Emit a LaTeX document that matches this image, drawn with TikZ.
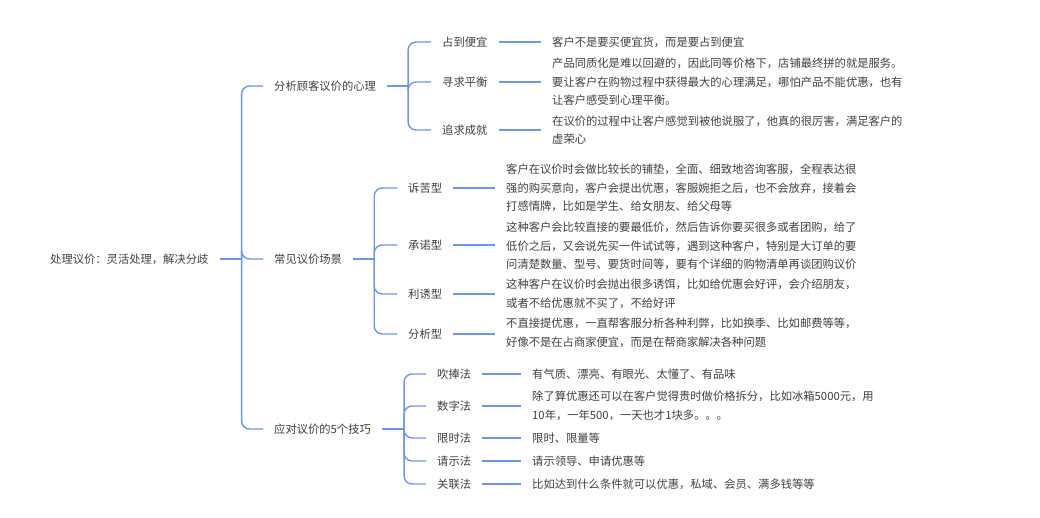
\documentclass[tikz,border=0pt]{standalone}
\usepackage{fontspec}
\setmainfont{Noto Sans CJK SC}
\definecolor{linkblue}{HTML}{6B95F5}
\definecolor{txtgray}{HTML}{404040}

\begin{document}
\begin{tikzpicture}[x=1pt, y=-1pt,
        txt/.style={anchor=west, inner xsep=11pt, inner ysep=0pt, align=left, text=txtgray,
            font=\fontsize{11.3}{18.5}\selectfont},
        link/.style={draw=linkblue, line width=1.4pt, rounded corners=8pt}]
        \useasboundingbox (0,0) rectangle (1040,518);

        \node[txt] (root) at (39,259) {处理议价：灵活处理，解决分歧};

        \node[txt] (psy) at (263,86) {分析顾客议价的心理};
        \node[txt] (scene) at (263,259) {常见议价场景};
        \node[txt] (skill) at (263,429) {应对议价的5个技巧};

        \node[txt] (cheap) at (431,42) {占到便宜};
        \node[txt] (balance) at (431,82) {寻求平衡};
        \node[txt] (success) at (431,130) {追求成就};

        \node[txt] (plead) at (397,188) {诉苦型};
        \node[txt] (promise) at (397,245) {承诺型};
        \node[txt] (lure) at (397,294) {利诱型};
        \node[txt] (analyse) at (397,334) {分析型};

        \node[txt] (praise) at (426,374) {吹捧法};
        \node[txt] (number) at (426,406) {数字法};
        \node[txt] (limit) at (426,438) {限时法};
        \node[txt] (ask) at (426,461) {请示法};
        \node[txt] (relate) at (426,484) {关联法};

        \node[txt] (cheapT) at (541,42) {客户不是要买便宜货，而是要占到便宜};
        \node[txt] (balanceT) at (541,82) {产品同质化是难以回避的，因此同等价格下，店铺最终拼的就是服务。\\要让客户在购物过程中获得最大的心理满足，哪怕产品不能优惠，也有\\让客户感受到心理平衡。};
        \node[txt] (successT) at (541,130) {在议价的过程中让客户感觉到被他说服了，他真的很厉害，满足客户的\\虚荣心};

        \node[txt] (pleadT) at (495,188) {客户在议价时会做比较长的铺垫，全面、细致地咨询客服，全程表达很\\强的购买意向，客户会提出优惠，客服婉拒之后，也不会放弃，接着会\\打感情牌，比如是学生、给女朋友、给父母等};
        \node[txt] (promiseT) at (495,246) {这种客户会比较直接的要最低价，然后告诉你要买很多或者团购，给了\\低价之后，又会说先买一件试试等，遇到这种客户，特别是大订单的要\\问清楚数量、型号、要货时间等，要有个详细的购物清单再谈团购议价};
        \node[txt] (lureT) at (495,294) {这种客户在议价时会抛出很多诱饵，比如给优惠会好评，会介绍朋友，\\或者不给优惠就不买了，不给好评};
        \node[txt] (analyseT) at (495,333) {不直接提优惠，一直帮客服分析各种利弊，比如换季、比如邮费等等，\\好像不是在占商家便宜，而是在帮商家解决各种问题};

        \node[txt] (praiseT) at (521,374) {有气质、漂亮、有眼光、太懂了、有品味};
        \node[txt] (numberT) at (521,406) {除了算优惠还可以在客户觉得贵时做价格拆分，比如冰箱5000元，用\\10年，一年500，一天也才1块多。。。};
        \node[txt] (limitT) at (521,438) {限时、限量等};
        \node[txt] (askT) at (521,461) {请示领导、申请优惠等};
        \node[txt] (relateT) at (521,484) {比如达到什么条件就可以优惠，私域、会员、满多钱等等};

        \path (root.east) ++(22,0) coordinate (j0);
        \path (psy.east) ++(21,0) coordinate (j1);
        \path (scene.east) ++(21,0) coordinate (j2);
        \path (skill.east) ++(22,0) coordinate (j3);

        \draw[link] (root.east) -- (j0);
        \draw[link] (psy.east) -- (j1);
        \draw[link] (scene.east) -- (j2);
        \draw[link] (skill.east) -- (j3);

        \foreach \c in {psy,scene,skill}
            \draw[link] (j0) |- (\c.west);
        \foreach \c in {cheap,balance,success}
            \draw[link] (j1) |- (\c.west);
        \foreach \c in {plead,promise,lure,analyse}
            \draw[link] (j2) |- (\c.west);
        \foreach \c in {praise,number,limit,ask,relate}
            \draw[link] (j3) |- (\c.west);

        \foreach \c in {cheap,balance,success,plead,promise,lure,analyse,praise,number,limit,ask,relate}
            \draw[link] (\c.east) -- (\c T.west |- \c.east);
    \end{tikzpicture}
\end{document}
